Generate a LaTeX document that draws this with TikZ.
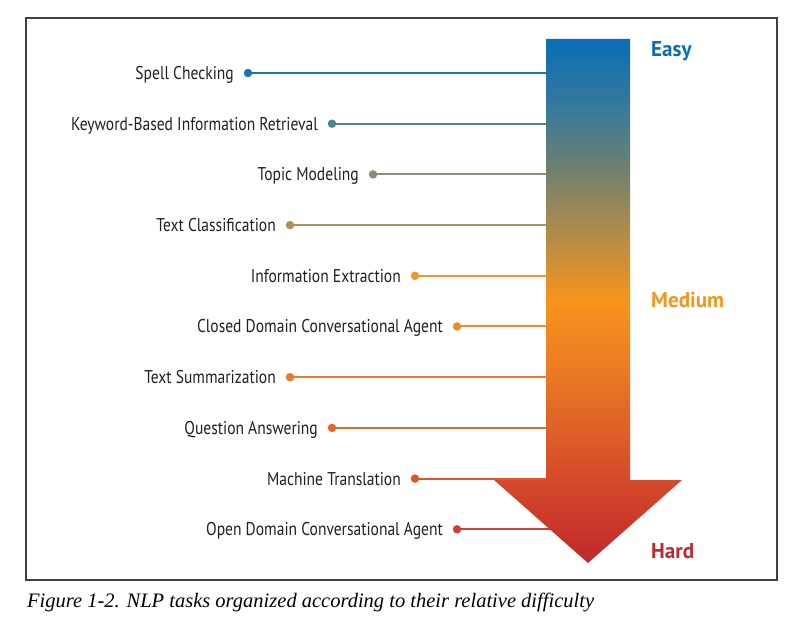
\documentclass[tikz,border=0pt]{standalone}
\usepackage{fontspec}
\usetikzlibrary{calc}
\setmainfont{PT Sans}[FakeStretch=0.84]
\newfontfamily\levelfont{PT Sans}[FakeStretch=0.98]
\newfontfamily\capfont{Liberation Serif}
\definecolor{cB}{HTML}{0A6DB5}
\definecolor{cB2}{HTML}{3A7A9A}
\definecolor{cG}{HTML}{72806E}
\definecolor{cT}{HTML}{A88A50}
\definecolor{cO}{HTML}{F7941D}
\definecolor{cO2}{HTML}{EC7F24}
\definecolor{cRO}{HTML}{D44A2A}
\definecolor{cR}{HTML}{C1272D}
\definecolor{txt}{HTML}{231F20}
\definecolor{d1}{HTML}{1F74AD}
\definecolor{d2}{HTML}{4D8597}
\definecolor{d3}{HTML}{8A8C78}
\definecolor{d4}{HTML}{B08F55}
\definecolor{d5}{HTML}{F2962A}
\definecolor{d6}{HTML}{F08A28}
\definecolor{d7}{HTML}{EC7A2A}
\definecolor{d8}{HTML}{E5672B}
\definecolor{d9}{HTML}{DC5430}
\definecolor{d10}{HTML}{D43F33}
\pgfdeclareverticalshading{arrowshade}{100bp}{color(0bp)=(cR); color(25bp)=(cR); color(32.9bp)=(cRO); color(44.4bp)=(cO2); color(50.1bp)=(cO); color(57.3bp)=(cT); color(62.5bp)=(cG); color(68.2bp)=(cB2); color(75bp)=(cB); color(100bp)=(cB)}
\tikzset{
  tasklabel/.style={anchor=base east, inner sep=0pt, text=txt, font=\fontsize{18.5}{22}\selectfont},
  taskline/.style={line width=2pt},
  taskdot/.style={circle, inner sep=0pt, minimum size=8.5pt},
  level/.style={anchor=base west, inner sep=0pt, font=\levelfont\bfseries\fontsize{21.5}{26}\selectfont},
}
\begin{document}
\begin{tikzpicture}[x=1pt,y=-1pt]
\useasboundingbox (0,0) rectangle (801,620);
\draw[line width=1.3pt, draw=black!75] (26,18) rectangle (777,580);
\foreach \i/\y/\dx/\c/\t in {
  1/73/248/d1/Spell Checking,
  2/123.7/332/d2/Keyword-Based Information Retrieval,
  3/174.4/373/d3/Topic Modeling,
  4/225.1/290/d4/Text Classification,
  5/275.8/415/d5/Information Extraction,
  6/326.5/457/d6/Closed Domain Conversational Agent,
  7/377.2/290/d7/Text Summarization,
  8/427.9/332/d8/Question Answering,
  9/478.6/415/d9/Machine Translation,
  10/529.3/457/d10/Open Domain Conversational Agent}{
  \node[taskdot, fill=\c] (dot\i) at (\dx,\y) {};
  \coordinate (end\i) at (570,\y);
  \draw[taskline, draw=\c] (dot\i.center) -- (end\i);
  \node[tasklabel] (lab\i) at ($(\dx,\y)+(-14,6.5)$) {\t};
}
\path[shading=arrowshade] (546,39) -- (630,39) -- (630,480) -- (682,480) -- (588,563) -- (494,480) -- (546,480) -- cycle;
\node[level, text=cB] (easy) at (651,57) {Easy};
\node[level, text=cO] (medium) at (651,307.5) {Medium};
\node[level, text=cR] (hard) at (651,558) {Hard};
\node[anchor=base west, inner sep=0pt, font=\capfont\itshape\fontsize{20.5}{24}\selectfont] (cap) at (27,607) {Figure 1-2. NLP tasks organized according to their relative difficulty};
\end{tikzpicture}
\end{document}
